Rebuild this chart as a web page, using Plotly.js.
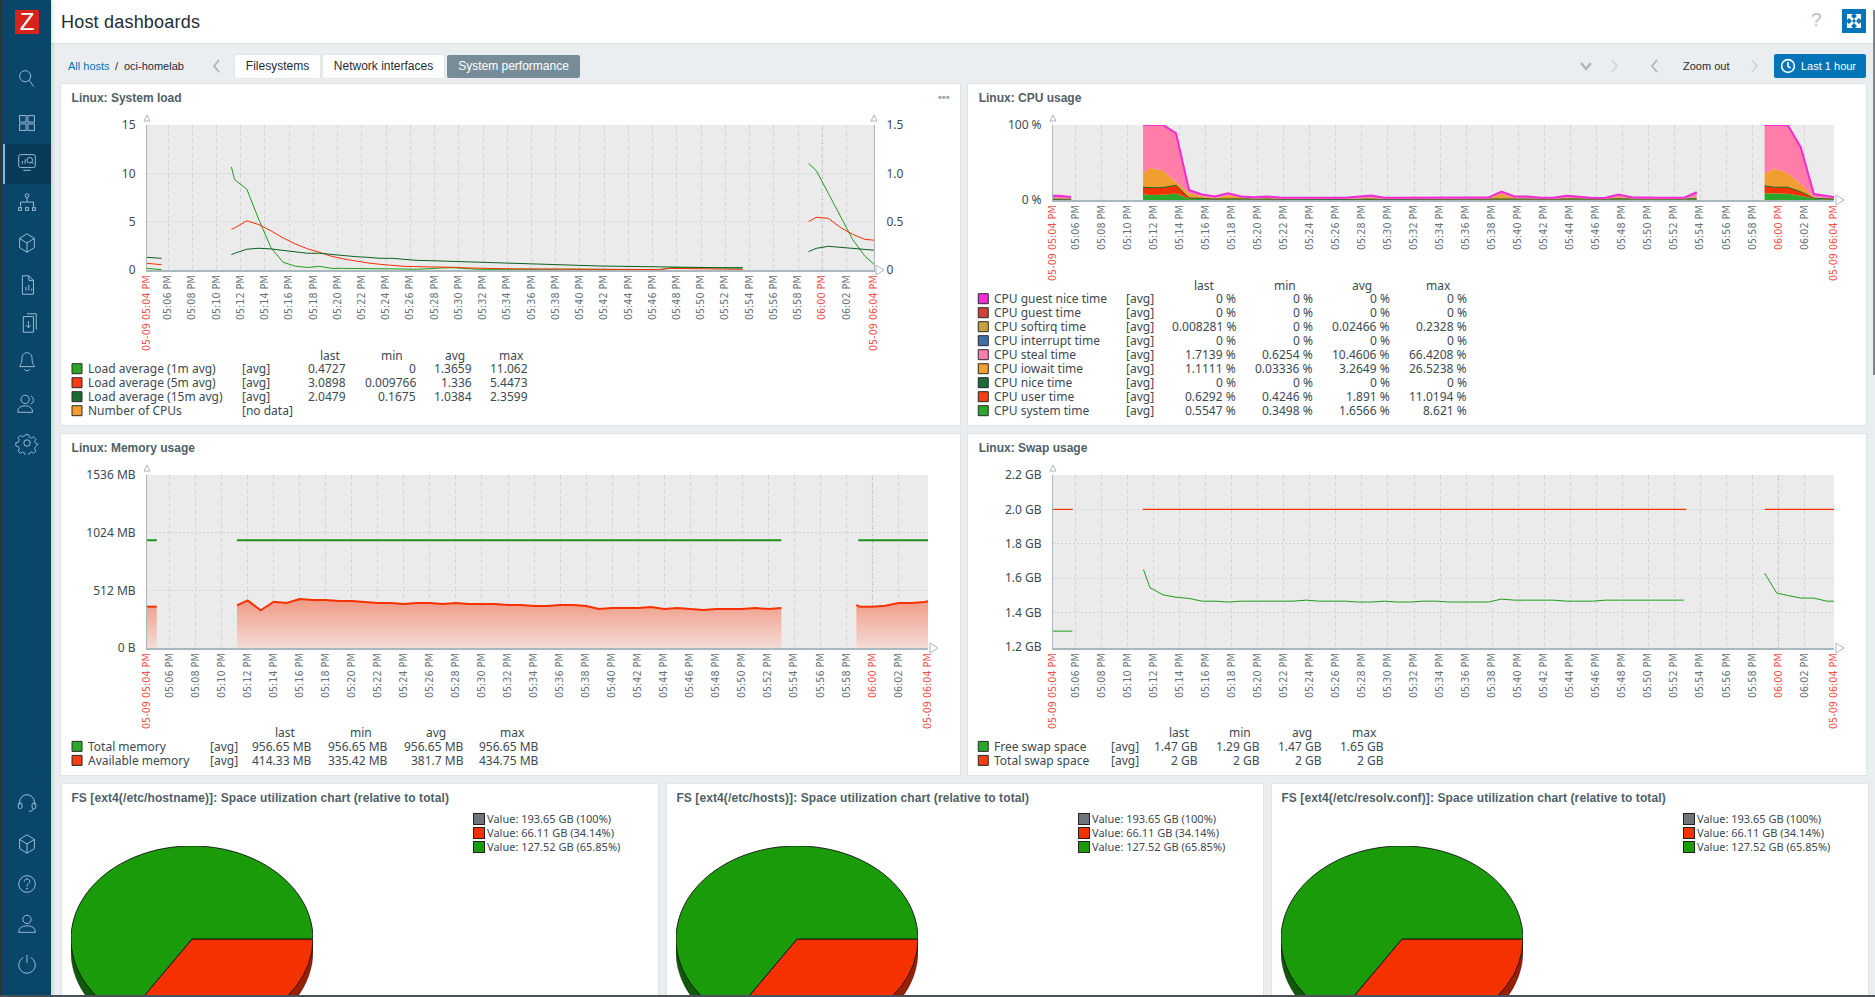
<!DOCTYPE html>
<html><head><meta charset="utf-8">
<script src="https://cdn.plot.ly/plotly-3.0.1.min.js"></script>
<style>
html,body{margin:0;padding:0;width:1875px;height:997px;overflow:hidden;background:#ebeef0;font-family:"Liberation Sans",Arial,sans-serif;color:#1f2c33}
.abs{position:absolute}
.panel{position:absolute;background:#fff;box-shadow:0 0 0 1px #e0e4e7}
.tab{position:absolute;top:55px;height:23px;line-height:22px;text-align:center;font-size:12px;background:#fff;color:#1f2c33;border-radius:2px;box-shadow:0 0 0 1px #e3e7ea}
.ptitle{position:absolute;font:bold 12px "Liberation Sans",Arial,sans-serif;letter-spacing:.1px;color:#4f5f69;white-space:nowrap}
.plg{position:absolute;font:11px "Noto Sans",sans-serif;line-height:16px;color:#3c4a52;white-space:nowrap}
.sw{position:absolute;width:10px;height:10px;border:1px solid #222}
svg.ic{position:absolute;left:15px;width:24px;height:24px;fill:none;stroke:#a5c6da;stroke-width:1}
svg.nav{position:absolute;fill:none;stroke:#aab4bb;stroke-width:1.8}
</style></head><body>
<script>
/* ---------- shared x axis ---------- */
const day = '2024-05-09 ';
const xRange = ['05:04:16','06:04:16'];
const xTickTimes = ['05:04:16','05:06:00','05:08:00','05:10:00','05:12:00','05:14:00','05:16:00','05:18:00','05:20:00','05:22:00','05:24:00','05:26:00','05:28:00','05:30:00','05:32:00','05:34:00','05:36:00','05:38:00','05:40:00','05:42:00','05:44:00','05:46:00','05:48:00','05:50:00','05:52:00','05:54:00','05:56:00','05:58:00','06:00:00','06:02:00','06:04:16'];
const xTickLabels = ['05-09 05:04 PM','05:06 PM','05:08 PM','05:10 PM','05:12 PM','05:14 PM','05:16 PM','05:18 PM','05:20 PM','05:22 PM','05:24 PM','05:26 PM','05:28 PM','05:30 PM','05:32 PM','05:34 PM','05:36 PM','05:38 PM','05:40 PM','05:42 PM','05:44 PM','05:46 PM','05:48 PM','05:50 PM','05:52 PM','05:54 PM','05:56 PM','05:58 PM','06:00 PM','06:02 PM','05-09 06:04 PM'];
const xRedLabels = ['05-09 05:04 PM','06:00 PM','05-09 06:04 PM'];

/* ---------- system load ---------- */
const loadTimes = ['05:04:16','05:05:28','05:08:00','05:11:14','05:11:30','05:12:30','05:13:30','05:14:30','05:15:30','05:16:30','05:17:30','05:18:30','05:19:30','05:20:30','05:21:30','05:22:30','05:23:30','05:24:30','05:25:30','05:26:30','05:27:30','05:28:30','05:29:30','05:30:30','05:31:30','05:32:30','05:33:30','05:34:30','05:35:30','05:36:30','05:37:30','05:38:30','05:39:30','05:40:30','05:41:30','05:42:30','05:43:30','05:44:30','05:45:30','05:46:30','05:47:30','05:48:30','05:49:30','05:50:30','05:51:30','05:52:30','05:53:26','05:56:00','05:58:52','05:59:30','06:00:30','06:01:30','06:02:30','06:03:30','06:04:16'];
const load1m = [0.17,0.03,null,10.66,9.34,8.37,5.2,2.3,0.8,0.4,0.26,0.38,0.17,0.17,0.17,0.17,0.1,0.17,0.1,0.07,0.1,0.2,0.24,0.15,0.08,0.07,0.06,0.08,0.07,0.05,0.07,0.08,0.09,0.07,0.08,0.06,0.05,0.03,0.02,0,0.24,0.2,0.22,0.22,0.23,0.24,0.25,null,11.03,10.28,7.93,5.5,3.17,1.45,0.59];
const load5m = [0.69,0.55,null,4.22,4.36,5.09,4.7,4.05,3.32,2.7,2.2,1.83,1.42,1.14,0.9,0.73,0.59,0.45,0.38,0.35,0.35,0.3,0.28,0.22,0.17,0.15,0.14,0.12,0.1,0.1,0.09,0.08,0.08,0.07,0.07,0.06,0.06,0.05,0.05,0.05,0.17,0.15,0.1,0.08,0.07,0.07,0.07,null,5.0,5.45,5.34,4.4,3.7,3.17,3.09];
const load15m = [1.31,1.21,null,1.59,1.73,2.15,2.25,2.18,2.04,1.87,1.73,1.73,1.59,1.49,1.38,1.31,1.21,1.21,1.1,1.0,0.97,0.93,0.9,0.86,0.8,0.76,0.69,0.66,0.6,0.59,0.55,0.5,0.48,0.45,0.42,0.4,0.38,0.34,0.31,0.29,0.27,0.25,0.23,0.22,0.21,0.2,0.2,null,1.9,2.24,2.45,2.34,2.24,2.14,2.05];
const loadNames = ['Load average (1m avg)','Load average (5m avg)','Load average (15m avg)','Number of CPUs'];
const loadFuncs = ['[avg]','[avg]','[avg]','[no data]'];
const loadLast = ['0.4727','3.0898','2.0479',''];
const loadMin = ['0','0.009766','0.1675',''];
const loadAvg = ['1.3659','1.336','1.0384',''];
const loadMax = ['11.062','5.4473','2.3599',''];
const loadLeftTicks = [0,5,10,15];
const loadRightTicks = [0,0.5,1,1.5];
const loadRightLabels = ['0','0.5','1.0','1.5'];

/* ---------- CPU usage: samples of three runs ---------- */
const cpuTimes = ['05:04:16','05:04:43','05:05:40',
 '05:11:11','05:11:43','05:12:43','05:13:43','05:14:43','05:15:43','05:16:43','05:17:43','05:18:43','05:19:43','05:20:43','05:21:43','05:22:43','05:23:43','05:24:43','05:25:43','05:26:43','05:27:43','05:28:43','05:29:43','05:30:43','05:31:43','05:32:43','05:33:43','05:34:43','05:35:43','05:36:43','05:37:43','05:38:43','05:39:43','05:40:43','05:41:43','05:42:43','05:43:43','05:44:43','05:45:43','05:46:43','05:47:43','05:48:43','05:49:43','05:50:43','05:51:43','05:52:43','05:53:43',
 '05:58:56','05:59:43','06:00:43','06:01:43','06:02:43','06:03:43','06:04:16'];
const cpuRuns = [[0,3],[3,47],[47,54]];
const cpuSystem = [0.55,0.55,0.5, 8,6.7,7,8.621,1.8,1,0.7,0.9,0.7,0.5,0.55,0.5,0.5,0.45,0.5,0.45,0.45,0.45,0.5,0.45,0.45,0.45,0.45,0.45,0.45,0.45,0.45,0.5,0.6,0.5,0.5,0.45,0.45,0.8,0.5,0.45,0.45,0.9,0.5,0.45,0.45,0.45,0.45,1.0, 9,8.6,8.4,5.8,1.6,0.6,0.5547];
const cpuUser = [0.65,0.65,0.6, 9,9.7,9.5,11.0194,0.9,0.6,0.6,0.6,0.6,0.6,0.6,0.55,0.55,0.55,0.5,0.55,0.55,0.55,0.6,0.55,0.5,0.5,0.5,0.5,0.5,0.5,0.5,0.55,0.9,0.55,0.55,0.5,0.5,0.5,0.55,0.5,0.5,0.55,0.5,0.5,0.5,0.5,0.5,0.6, 9.7,8.4,8.6,5.2,0.8,0.65,0.6292];
const cpuNice = [0,0,0, 0,0,0,0,0,0,0,0,0,0,0,0,0,0,0,0,0,0,0,0,0,0,0,0,0,0,0,0,0,0,0,0,0,0,0,0,0,0,0,0,0,0,0,0, 0,0,0,0,0,0,0];
const cpuIowait = [1.2,1.2,0.9, 18.5,26.5238,23,4.9,6.2,3.7,1.4,4.7,2.2,0.6,1.6,0.3,0.3,0.3,0.1,0.3,0.3,1.0,2.0,0.3,0.3,0.3,0.3,0.3,0.3,0.3,0.3,0.5,7,1.4,1.2,0.3,0.3,1.8,1.2,0.2,0.3,2.5,1,0.3,0.3,0.3,0.3,3.2, 17,25,18.7,10,1.2,1.1,1.1111];
const cpuSteal = [3.3,3.3,2.0, 64.5,57.1,60.5,64.5,4.4,2.0,1.9,2.9,1.1,2.0,1.85,1.9,1.6,1.6,1.5,1.6,1.6,2.3,2.9,1.6,1.6,1.6,1.6,1.6,1.6,1.6,1.6,1.6,2.8,2.3,2.3,1.6,1.6,2.7,2.1,1.65,1.65,3.3,1.8,1.6,1.6,1.6,1.6,5.5, 64.3,58,64,49,4.4,2.9,1.7139];
const cpuInterrupt = cpuNice;
const cpuSoftirq = [0.02,0.02,0.02, 0.23,0.2,0.1,0.05,0.02,0.02,0.02,0.02,0.02,0.02,0.02,0.02,0.02,0.02,0.02,0.02,0.02,0.02,0.02,0.02,0.02,0.02,0.02,0.02,0.02,0.02,0.02,0.02,0.02,0.02,0.02,0.02,0.02,0.02,0.02,0.02,0.02,0.02,0.02,0.02,0.02,0.02,0.02,0.02, 0.1,0.1,0.05,0.02,0.02,0.01,0.008];
const cpuGuest = cpuNice;
const cpuGuestNice = cpuNice;
const cpuNames = ['CPU guest nice time','CPU guest time','CPU softirq time','CPU interrupt time','CPU steal time','CPU iowait time','CPU nice time','CPU user time','CPU system time'];
const cpuFuncs = ['[avg]','[avg]','[avg]','[avg]','[avg]','[avg]','[avg]','[avg]','[avg]'];
const cpuLast = ['0 %','0 %','0.008281 %','0 %','1.7139 %','1.1111 %','0 %','0.6292 %','0.5547 %'];
const cpuMin = ['0 %','0 %','0 %','0 %','0.6254 %','0.03336 %','0 %','0.4246 %','0.3498 %'];
const cpuAvg = ['0 %','0 %','0.02466 %','0 %','10.4606 %','3.2649 %','0 %','1.891 %','1.6566 %'];
const cpuMax = ['0 %','0 %','0.2328 %','0 %','66.4208 %','26.5238 %','0 %','11.0194 %','8.621 %'];
const cpuTicks = [0,100];
const cpuTickLabels = ['0 %','100 %'];

/* ---------- memory ---------- */
const memTimes = ['05:04:16','05:05:01','05:11:11','05:12:00','05:13:00','05:14:00','05:15:00','05:16:00','05:17:00','05:18:00','05:19:00','05:20:00','05:21:00','05:22:00','05:23:00','05:24:00','05:25:00','05:26:00','05:27:00','05:28:00','05:29:00','05:30:00','05:31:00','05:32:00','05:33:00','05:34:00','05:35:00','05:36:00','05:37:00','05:38:00','05:39:00','05:40:00','05:41:00','05:42:00','05:43:00','05:44:00','05:45:00','05:46:00','05:47:00','05:48:00','05:49:00','05:50:00','05:51:00','05:52:00','05:53:00','05:58:46','05:59:00','06:00:00','06:01:00','06:02:00','06:03:00','06:04:00','06:04:16'];
const memRuns = [[0,2],[2,45],[45,53]];
const memAvailable = [367,367,379,423,335.42,411,400,434.75,426,426,417,417,408,400,400,391,400,400,391,400,391,391,391,382,382,373,373,382,382,373,346,355,355,355,364,346,355,346,337,346,346,346,355,346,355,382,367,367,376,400,400,408,414.33];
const memTotalTimes = ['05:04:16','05:05:01','05:08:00','05:11:11','05:53:00','05:56:00','05:58:55','06:04:16'];
const memTotal = [956.65,956.65,null,956.65,956.65,null,956.65,956.65];
const memNames = ['Total memory','Available memory'];
const memFuncs = ['[avg]','[avg]'];
const memLast = ['956.65 MB','414.33 MB'];
const memMin = ['956.65 MB','335.42 MB'];
const memAvg = ['956.65 MB','381.7 MB'];
const memMax = ['956.65 MB','434.75 MB'];
const memTicks = [0,512,1024,1536];
const memTickLabels = ['0 B','512 MB','1024 MB','1536 MB'];

/* ---------- swap ---------- */
const swapTimes = ['05:04:16','05:05:45','05:08:00','05:11:13','05:11:43','05:12:43','05:13:43','05:14:43','05:15:43','05:16:43','05:17:43','05:18:43','05:19:43','05:20:43','05:21:43','05:22:43','05:23:43','05:24:43','05:25:43','05:26:43','05:27:43','05:28:43','05:29:43','05:30:43','05:31:43','05:32:43','05:33:43','05:34:43','05:35:43','05:36:43','05:37:43','05:38:43','05:39:43','05:40:43','05:41:43','05:42:43','05:43:43','05:44:43','05:45:43','05:46:43','05:47:43','05:48:43','05:49:43','05:50:43','05:51:43','05:52:43','05:56:00','05:58:56','05:59:52','06:00:43','06:01:43','06:02:43','06:03:43','06:04:16'];
const swapFree = [1.293,1.293,null,1.65,1.545,1.504,1.49,1.483,1.467,1.467,1.462,1.467,1.467,1.467,1.467,1.467,1.473,1.467,1.467,1.467,1.462,1.462,1.467,1.462,1.462,1.467,1.467,1.462,1.462,1.462,1.462,1.479,1.473,1.473,1.473,1.473,1.467,1.467,1.467,1.473,1.473,1.473,1.473,1.473,1.473,1.473,null,1.63,1.514,1.5,1.485,1.485,1.467,1.467];
const swapTotalTimes = ['05:04:16','05:05:47','05:08:00','05:11:11','05:52:55','05:56:00','05:58:56','06:04:16'];
const swapTotal = [2,2,null,2,2,null,2,2];
const swapNames = ['Free swap space','Total swap space'];
const swapFuncs = ['[avg]','[avg]'];
const swapLast = ['1.47 GB','2 GB'];
const swapMin = ['1.29 GB','2 GB'];
const swapAvg = ['1.47 GB','2 GB'];
const swapMax = ['1.65 GB','2 GB'];
const swapTicks = [1.2,1.4,1.6,1.8,2.0,2.2];
const swapTickLabels = ['1.2 GB','1.4 GB','1.6 GB','1.8 GB','2.0 GB','2.2 GB'];

/* ---------- filesystem pies ---------- */
const pieTitles = ['FS [ext4(/etc/hostname)]: Space utilization chart (relative to total)','FS [ext4(/etc/hosts)]: Space utilization chart (relative to total)','FS [ext4(/etc/resolv.conf)]: Space utilization chart (relative to total)'];
const pieLabels = ['Used','Free'];
const pieValues = [66.11,127.52];
const pieLegend = ['Value: 193.65 GB (100%)','Value: 66.11 GB (34.14%)','Value: 127.52 GB (65.85%)'];

const hdr = ['last','min','avg','max'];

/* ---------- styles ---------- */
const GREEN='#1f9e18', RED='#f63100', DKGREEN='#0b5f1e', SWGREEN='#2ca62a', SWRED='#f63d13', SWDK='#1c6b36', ORANGE='#f09e30', PINK='#ff7ea9', MAGENTA='#f22bd3';
const TXT='#3c4a52', AX='#a9b7be', GRID='#cdd5d8', LBLRED='#f2504a', LBLGRAY='#66727a';

function panel(x,y,w,h){const d=document.createElement('div');d.className='panel';d.style.cssText=`left:${x}px;top:${y}px;width:${w}px;height:${h}px`;document.body.appendChild(d);return d;}

function timeChart(c){
  const P=c.panel, Q=c.plot, el=panel(P.x,P.y,P.w,P.h);
  const pw=Q.r-Q.l, ph=Q.b-Q.t;
  const fx=px=>(px-Q.l)/pw, fy=py=>1-(py-Q.t)/ph;
  const ann=[], shp=[];
  const txt=(px,py,s,anchor)=>ann.push({xref:'paper',yref:'paper',x:fx(px),y:fy(py),text:s,showarrow:false,xanchor:anchor,yanchor:'middle',borderpad:0,font:{family:'Noto Sans',size:12,color:TXT}});
  const L=c.legend;
  hdr.forEach((h,i)=>txt(L.heads[i],L.headY,h,'center'));
  L.names.forEach((n,r)=>{
    const y=L.y0+r*14;
    shp.push({type:'rect',xref:'paper',yref:'paper',x0:fx(L.swx),x1:fx(L.swx+10),y0:fy(y-5),y1:fy(y+5),fillcolor:L.colors[r],line:{color:'#2a2a2a',width:1},layer:'above'});
    txt(L.swx+15,y,n,'left');
    txt(L.fx,y,L.funcs[r],'left');
    L.cols.forEach((arr,k)=>{if(arr[r])txt(L.right[k],y,arr[r],'right');});
  });
  const tri=(pts)=>'M'+pts.map(p=>fx(p[0])+' '+fy(p[1])).join('L')+'Z';
  const arrows=[[[Q.l-3,Q.t-4],[Q.l,Q.t-10],[Q.l+3,Q.t-4]],[[Q.r+2,Q.b-5],[Q.r+10,Q.b],[Q.r+2,Q.b+5]]];
  if(c.rightAxis) arrows.push([[Q.r-3,Q.t-4],[Q.r,Q.t-10],[Q.r+3,Q.t-4]]);
  arrows.forEach(a=>shp.push({type:'path',xref:'paper',yref:'paper',path:tri(a),line:{color:AX,width:1},fillcolor:'#fff',layer:'above'}));
  shp.push({type:'line',xref:'x',yref:'paper',x0:day+'06:00:00',x1:day+'06:00:00',y0:0,y1:1,line:{color:'#aab4b8',width:1,dash:'4px,3px'},layer:'below'});

  const layout={
    width:P.w,height:P.h,autosize:false,showlegend:false,hovermode:false,
    margin:{l:Q.l-P.x,r:P.x+P.w-Q.r,t:Q.t-P.y,b:P.y+P.h-Q.b,pad:0},
    paper_bgcolor:'#ffffff',plot_bgcolor:'#ebebeb',
    title:{text:c.title,x:(c.titleX-P.x)/P.w,xref:'container',xanchor:'left',yref:'container',y:1-13.7/P.h,yanchor:'middle',font:{family:'Liberation Sans',size:12,color:'#4f5f69',weight:700}},
    font:{family:'Noto Sans',size:12,color:TXT},
    xaxis:{type:'date',range:xRange.map(t=>day+t),tickmode:'array',tickvals:xTickTimes.map(t=>day+t),
      ticktext:xTickLabels.map(t=>xRedLabels.includes(t)?`<span style="color:${LBLRED}">${t}</span>`:t),
      tickangle:-90,tickfont:{family:'DejaVu Sans',size:9.6,color:LBLGRAY},ticks:'',ticklabelstandoff:0,
      showgrid:true,gridcolor:GRID,gridwidth:1,griddash:'4px,3px',showline:true,linecolor:AX,linewidth:1.5,zeroline:false,fixedrange:true,layer:'above traces'},
    yaxis:{range:c.yRange,tickmode:'array',tickvals:c.yTicks,ticktext:c.yLabels,ticks:'',ticklabelstandoff:8,
      tickfont:{family:'Noto Sans',size:12,color:TXT},showgrid:true,gridcolor:GRID,gridwidth:1,griddash:'2px,2px',
      showline:true,linecolor:AX,linewidth:1,zeroline:false,fixedrange:true},
    annotations:ann,shapes:shp
  };
  if(c.rightAxis){
    layout.yaxis2={overlaying:'y',side:'right',range:c.rightAxis.range,tickmode:'array',tickvals:c.rightAxis.ticks,ticktext:c.rightAxis.labels,ticks:'',ticklabelstandoff:9,tickfont:{family:'Noto Sans',size:12,color:TXT},showgrid:false,showline:true,linecolor:AX,linewidth:1,zeroline:false,fixedrange:true};
  }
  Plotly.newPlot(el,c.traces,layout,{staticPlot:true,displayModeBar:false});
}

const at=a=>a.map(t=>day+t);
const lineTrace=(x,y,color,w,name,extra)=>Object.assign({type:'scatter',mode:'lines',x:at(x),y,name,line:{color,width:w,shape:'linear'},connectgaps:false},extra||{});

/* system load */
timeChart({panel:{x:61,y:84,w:899,h:341},plot:{l:147,r:874,t:125,b:270},title:'Linux: System load',titleX:71.6,
  yRange:[0,15],yTicks:loadLeftTicks,yLabels:loadLeftTicks.map(String),
  rightAxis:{range:[0,1.5],ticks:loadRightTicks,labels:loadRightLabels},
  traces:[lineTrace(loadTimes,load1m,GREEN,1,loadNames[0]),lineTrace(loadTimes,load5m,RED,1,loadNames[1]),lineTrace(loadTimes,load15m,DKGREEN,1,loadNames[2]),
    {type:'scatter',mode:'lines',x:at(xRange),y:[null,null],yaxis:'y2',name:loadNames[3],line:{color:ORANGE,width:1}}],
  legend:{names:loadNames,funcs:loadFuncs,cols:[loadLast,loadMin,loadAvg,loadMax],colors:[SWGREEN,SWRED,SWDK,ORANGE],swx:72,fx:241,right:[347,417,473,529],heads:[330,392,455,511],headY:355,y0:368.7}});

/* CPU usage: one stack per run of samples */
const cpuStack=[[cpuSystem,'CPU system time','#2ca62a',0],[cpuUser,'CPU user time',RED,0],[cpuNice,'CPU nice time','#14662a',1],[cpuIowait,'CPU iowait time',ORANGE,0],[cpuSteal,'CPU steal time',PINK,0],[cpuInterrupt,'CPU interrupt time','#3f6fa5',0],[cpuSoftirq,'CPU softirq time','#c9a03f',0],[cpuGuest,'CPU guest time','#d0403a',0],[cpuGuestNice,'CPU guest nice time',MAGENTA,2]];
const cpuTraces=[];
cpuRuns.forEach((run,i)=>cpuStack.forEach(s=>cpuTraces.push({type:'scatter',mode:'lines',stackgroup:'run'+i,name:s[1],x:at(cpuTimes.slice(run[0],run[1])),y:s[0].slice(run[0],run[1]),fillcolor:s[2],line:{color:s[2],width:s[3]}})));
timeChart({panel:{x:968,y:84,w:898,h:341},plot:{l:1053.4,r:1834,t:125,b:200},title:'Linux: CPU usage',titleX:978.7,
  yRange:[0,100],yTicks:cpuTicks,yLabels:cpuTickLabels,traces:cpuTraces,
  legend:{names:cpuNames,funcs:cpuFuncs,cols:[cpuLast,cpuMin,cpuAvg,cpuMax],colors:[MAGENTA,'#d0403a','#c9a03f','#3f6fa5',PINK,ORANGE,SWDK,SWRED,SWGREEN],swx:978.7,fx:1125.7,right:[1237,1314,1391,1468],heads:[1205,1285.6,1362.6,1438.5],headY:285,y0:298.7}});

/* memory: each run of samples is filled down to zero on its own */
const memFillTraces=memRuns.map(run=>lineTrace(memTimes.slice(run[0],run[1]),memAvailable.slice(run[0],run[1]),RED,2,memNames[1],{fill:'tozeroy',fillgradient:{type:'vertical',start:0,stop:435,colorscale:[[0,'#f4ddd8'],[1,'#f09a84']]}}));
timeChart({panel:{x:61,y:434,w:899,h:341},plot:{l:147,r:928.4,t:475.3,b:648.3},title:'Linux: Memory usage',titleX:71.6,
  yRange:[0,1536],yTicks:memTicks,yLabels:memTickLabels,
  traces:[lineTrace(memTotalTimes,memTotal,'#1f8f1a',2,memNames[0])].concat(memFillTraces),
  legend:{names:memNames,funcs:memFuncs,cols:[memLast,memMin,memAvg,memMax],colors:[SWGREEN,SWRED],swx:72,fx:209.4,right:[313,388.9,464.8,540.7],heads:[285.4,360.7,436.6,512.6],headY:732.7,y0:746.7}});

/* swap */
timeChart({panel:{x:968,y:434,w:898,h:341},plot:{l:1053.4,r:1834,t:475.3,b:648.3},title:'Linux: Swap usage',titleX:978.7,
  yRange:[1.195,2.2],yTicks:swapTicks,yLabels:swapTickLabels,
  traces:[lineTrace(swapTimes,swapFree,GREEN,1,swapNames[0]),lineTrace(swapTotalTimes,swapTotal,RED,1.2,swapNames[1])],
  legend:{names:swapNames,funcs:swapFuncs,cols:[swapLast,swapMin,swapAvg,swapMax],colors:[SWGREEN,SWRED],swx:978.7,fx:1110.5,right:[1199.8,1261.7,1323.5,1385.4],heads:[1179.4,1240.7,1302.5,1364.4],headY:732.7,y0:746.7}});

/* pies: a flat pie over a darker copy, squashed into the reference's tilted disc */
[0,605,1210].forEach((dx,i)=>{
  panel(61.5+dx,784,596,240);
  const t=document.createElement('div');t.className='ptitle';t.textContent=pieTitles[i];t.style.cssText=`left:${71.4+dx}px;top:791px`;document.body.appendChild(t);
  pieLegend.forEach((s,r)=>{
    const y=819+r*14;
    const sw=document.createElement('div');sw.className='sw';sw.style.cssText=`left:${473+dx}px;top:${y-6}px;background:${['#6f7578','#f63100','#1a9c0a'][r]}`;document.body.appendChild(sw);
    const l=document.createElement('div');l.className='plg';l.textContent=s;l.style.cssText=`left:${487+dx}px;top:${y-8}px`;document.body.appendChild(l);
  });
  const W=242,H=258,d=document.createElement('div');
  d.style.cssText=`position:absolute;left:${192.4+dx-W/2}px;top:${939.3-W/2}px;width:${W}px;height:${H}px;transform-origin:${W/2}px ${W/2}px;transform:scaleY(0.769)`;
  document.body.appendChild(d);
  Plotly.newPlot(d,[
    {type:'pie',labels:pieLabels,values:pieValues,sort:false,direction:'clockwise',rotation:90,textinfo:'none',hoverinfo:'skip',domain:{x:[0,1],y:[0,W/H]},marker:{colors:['#9a1f00','#0f5a08'],line:{color:'#222',width:0.5}}},
    {type:'pie',labels:pieLabels,values:pieValues,sort:false,direction:'clockwise',rotation:90,textinfo:'none',hoverinfo:'skip',domain:{x:[0,1],y:[1-W/H,1]},marker:{colors:['#f63100','#1a9c0a'],line:{color:'#111',width:1}}}
  ],{width:W,height:H,autosize:false,showlegend:false,margin:{l:0,r:0,t:0,b:0,pad:0},paper_bgcolor:'rgba(0,0,0,0)'},{staticPlot:true,displayModeBar:false});
});

/* ---------- page chrome ---------- */
function add(html){const w=document.createElement('div');w.innerHTML=html;while(w.firstChild)document.body.appendChild(w.firstChild);}
add(`
<div class="abs" style="left:0;top:0;width:1875px;height:43px;background:#fff;box-shadow:0 1px 0 #dde2e5"></div>
<div class="abs" style="left:0;top:0;width:51px;height:997px;background:#0a466a;box-shadow:2px 0 3px rgba(0,0,0,.12)"></div>
<div class="abs" style="left:0;top:0;width:2px;height:997px;background:#2f3438"></div>
<div class="abs" style="left:2px;top:144px;width:49px;height:40px;background:#083a59"></div>
<div class="abs" style="left:3px;top:144px;width:2px;height:40px;background:#7fb8dc"></div>
<div class="abs" style="left:15px;top:10px;width:24px;height:24px;background:#d8231a;color:#fff;font:normal 24px 'Liberation Sans';line-height:24px;text-align:center">Z</div>
<div class="abs" style="left:61px;top:9px;font-size:18px;line-height:26px;color:#1f2c33;letter-spacing:.2px">Host dashboards</div>
<div class="abs" style="left:68px;top:59px;font-size:11px;line-height:14px;color:#0275b8">All hosts</div>
<div class="abs" style="left:115px;top:59px;font-size:11px;line-height:14px;color:#1f2c33">/</div>
<div class="abs" style="left:124px;top:59px;font-size:11px;line-height:14px;color:#1f2c33">oci-homelab</div>
<div class="tab" style="left:235px;width:85px">Filesystems</div>
<div class="tab" style="left:323px;width:121px">Network interfaces</div>
<div class="tab" style="left:447px;width:133px;background:#768d99;color:#fff;box-shadow:none">System performance</div>
<svg class="nav" style="left:211px;top:58px;width:10px;height:16px"><path d="M8 2 L3 8 L8 14"/></svg>
<div class="abs" style="left:1811px;top:8px;font-size:19px;line-height:24px;color:#b5bdc2">?</div>
<div class="abs" style="left:1842px;top:9px;width:24px;height:24px;background:#0275b8"></div>
<svg class="abs" style="left:1842px;top:9px;width:24px;height:24px" fill="#fff"><path d="M5 5h6l-2 2 3 3-2 2-3-3-2 2zM19 5v6l-2-2-3 3-2-2 3-3-2-2zM5 19v-6l2 2 3-3 2 2-3 3 2 2zM19 19h-6l2-2-3-3 2-2 3 3 2-2z"/></svg>
<svg class="nav" style="left:1579px;top:60px;width:14px;height:12px;stroke-width:2.4"><path d="M2 3 L7 9 L12 3"/></svg>
<svg class="nav" style="left:1610px;top:58px;width:10px;height:16px;stroke:#cfd6da"><path d="M2 2 L7 8 L2 14"/></svg>
<svg class="nav" style="left:1649px;top:58px;width:10px;height:16px"><path d="M8 2 L3 8 L8 14"/></svg>
<div class="abs" style="left:1683px;top:59px;font-size:11px;line-height:14px;color:#1f2c33">Zoom out</div>
<svg class="nav" style="left:1750px;top:58px;width:10px;height:16px;stroke:#cfd6da"><path d="M2 2 L7 8 L2 14"/></svg>
<div class="abs" style="left:1774px;top:54px;width:92px;height:24px;background:#0275b8;border-radius:2px"></div>
<svg class="abs" style="left:1780px;top:58px;width:16px;height:16px" fill="none" stroke="#fff" stroke-width="1.6"><circle cx="8" cy="8" r="6.4"/><path d="M8 4v4.4l2.5 1.6"/></svg>
<div class="abs" style="left:1801px;top:59px;font-size:11px;line-height:14px;color:#fff">Last 1 hour</div>
<div class="abs" style="left:938px;top:92px;font-size:11px;line-height:10px;letter-spacing:0;color:#9aa5ab;font-weight:bold">•••</div>
<div class="abs" style="left:1873px;top:10px;width:2px;height:365px;background:#7d8589"></div>
<div class="abs" style="left:0;top:995px;width:1875px;height:2px;background:#4a5257"></div>
`);
const icons=[[79,'<circle cx="11" cy="10" r="6"/><path d="M15.5 14.5L20 21"/>'],
[123,'<rect x="5" y="5" width="7" height="7"/><rect x="14" y="5" width="7" height="7"/><rect x="5" y="14" width="7" height="7"/><rect x="14" y="14" width="7" height="7"/>'],
[162,'<rect x="4" y="5" width="18" height="14" rx="2"/><path d="M9 22h8M8 15v-3M11 15v-5"/><circle cx="16" cy="11" r="3"/><path d="M18 13l2 2"/>'],
[203,'<circle cx="13" cy="5" r="2"/><path d="M13 7v5M6 17v-5h14v5"/><rect x="4" y="18" width="3" height="3"/><rect x="11.5" y="18" width="3" height="3"/><rect x="19" y="18" width="3" height="3"/>'],
[243,'<path d="M13 3l8 5v10l-8 5-8-5V8zM5 8l8 5 8-5M13 13v10"/>'],
[285,'<path d="M8 3h7l5 5v15H8z M15 3v5h5"/><path d="M12 19v-4M15 19v-6M18 19v-2"/>'],
[323,'<path d="M9 6h11v17H9z M13 3h10v17"/><path d="M14.5 11v7M12 15.5l2.5 2.5 2.5-2.5"/>'],
[362,'<path d="M13 3c-4 0-5.5 3-5.500 7 0 5-2.500 7-2.500 8h16c0-1-2.500-3-2.500-8 0-4-1.500-7-5.500-7zM10 21c1 2 5 2 6 0"/>'],
[404,'<circle cx="11" cy="8" r="4.500"/><path d="M3 22c0-5 3-7 8-7s8 2 8 7zM17 4c2 1 3 3 3 5s-1 3-3 4"/>'],
[443,'<circle cx="13" cy="13" r="3.500"/><path d="M11 3h4l.7 3 2.700 1.200 2.600-1.600 2.800 2.800-1.600 2.600 1.200 2.700 3 .7-3 3-1.200 2.700 1.600 2.600-2.800 2.800-2.600-1.600-2.700 1.200-.7 3h-4l-.7-3-2.700-1.200-2.600 1.600-2.800-2.800 1.600-2.600-1.200-2.700-3-.7v-4l3-.7 1.200-2.700-1.600-2.600 2.800-2.800 2.600 1.600 2.700-1.200z" transform="scale(.9) translate(1.400 1.400)"/>'],
[803,'<path d="M5 15v-3a8 8 0 0 1 16 0v3"/><rect x="3.500" y="13" width="4" height="6" rx="1.500"/><rect x="18.500" y="13" width="4" height="6" rx="1.500"/><path d="M20 19c0 2-2 3-5 3"/>'],
[844,'<path d="M13 3l8 5v10l-8 5-8-5V8zM5 8l8 5 8-5M13 13v10"/>'],
[884,'<circle cx="13" cy="13" r="9"/><path d="M10 10.500c0-4 6-4 6 0 0 2-3 2-3 5"/><circle cx="13" cy="18" r=".6"/>'],
[924,'<circle cx="13" cy="8" r="4.500"/><path d="M4 22c0-5 4-7 9-7s9 2 9 7z"/>'],
[964,'<path d="M9 6a9 9 0 1 0 8 0M13 3v9"/>']];
icons.forEach(i=>add(`<svg class="ic" viewBox="0 0 26 26" style="top:${i[0]-12}px">${i[1]}</svg>`));
</script>
</body></html>
